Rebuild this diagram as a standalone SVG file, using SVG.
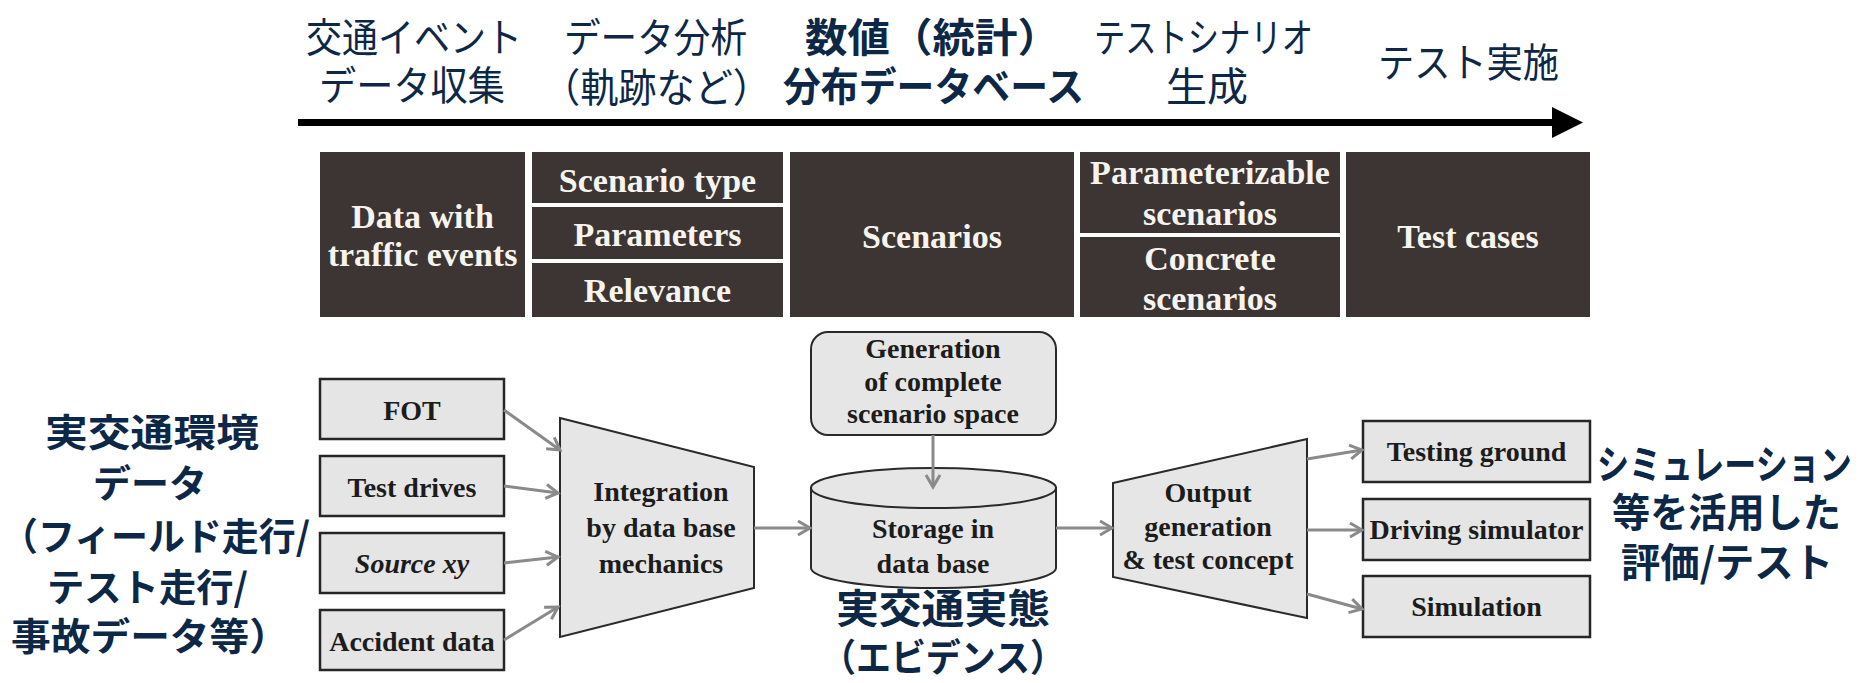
<svg xmlns="http://www.w3.org/2000/svg" width="1861" height="683" viewBox="0 0 1861 683">
<defs>
<style>
.jp{font-family:"Noto Sans CJK JP","Noto Sans CJK SC",sans-serif;fill:#0d2847;}
.jr{font-weight:400;font-size:40px;}
.jb{font-weight:700;}
.dk{fill:#3c3533;}
.wt{font-family:"Liberation Serif","Times New Roman",serif;font-weight:700;font-size:34px;fill:#f7f3ee;text-anchor:middle;}
.bx{fill:#e5e5e5;stroke:#262626;stroke-width:2.5;}
.sh{fill:#e6e6e6;stroke:#2a2a2a;stroke-width:2;}
.bt{font-family:"Liberation Serif","Times New Roman",serif;font-weight:700;font-size:28px;fill:#1c1c1c;text-anchor:middle;}
.cn{stroke:#8a8a8a;stroke-width:3;fill:none;marker-end:url(#ah);}
</style>
<marker id="ah" markerUnits="userSpaceOnUse" markerWidth="18" markerHeight="18" refX="15" refY="9" orient="auto">
<path d="M3,2 L15,9 L3,16" fill="none" stroke="#8a8a8a" stroke-width="3"/>
</marker>
</defs>
<rect width="1861" height="683" fill="#ffffff"/>

<g id="timeline">
<text class="jp jr" x="306" y="52" textLength="216" lengthAdjust="spacingAndGlyphs">交通イベント</text>
<text class="jp jr" x="319" y="100" textLength="186" lengthAdjust="spacingAndGlyphs">データ収集</text>
<text class="jp jr" x="564" y="52" textLength="183" lengthAdjust="spacingAndGlyphs">データ分析</text>
<text class="jp jr" x="542" y="102" textLength="229" lengthAdjust="spacingAndGlyphs">（軌跡など）</text>
<text class="jp jr jb" x="805" y="52" textLength="255" lengthAdjust="spacingAndGlyphs">数値（統計）</text>
<text class="jp jr jb" x="783" y="101" textLength="301" lengthAdjust="spacingAndGlyphs">分布データベース</text>
<text class="jp jr" x="1094" y="52" textLength="219" lengthAdjust="spacingAndGlyphs">テストシナリオ</text>
<text class="jp jr" x="1166" y="101" textLength="82" lengthAdjust="spacingAndGlyphs">生成</text>
<text class="jp jr" x="1378" y="77" textLength="181" lengthAdjust="spacingAndGlyphs">テスト実施</text>
<line x1="298" y1="122.5" x2="1556" y2="122.5" stroke="#000" stroke-width="7"/>
<polygon points="1552,107 1583,122.5 1552,138" fill="#000"/>
</g>

<g id="table">
<rect class="dk" x="320" y="152" width="205" height="165"/>
<text class="wt" x="422.5" y="228">Data with</text>
<text class="wt" x="422.5" y="266">traffic events</text>
<rect class="dk" x="532" y="152" width="251" height="51"/>
<text class="wt" x="657.5" y="192">Scenario type</text>
<rect class="dk" x="532" y="207" width="251" height="52"/>
<text class="wt" x="657.5" y="246">Parameters</text>
<rect class="dk" x="532" y="263" width="251" height="54"/>
<text class="wt" x="657.5" y="302">Relevance</text>
<rect class="dk" x="790" y="152" width="284" height="165"/>
<text class="wt" x="932" y="248">Scenarios</text>
<rect class="dk" x="1080" y="152" width="260" height="81"/>
<text class="wt" x="1210" y="184">Parameterizable</text>
<text class="wt" x="1210" y="225">scenarios</text>
<rect class="dk" x="1080" y="237" width="260" height="80"/>
<text class="wt" x="1210" y="270">Concrete</text>
<text class="wt" x="1210" y="310">scenarios</text>
<rect class="dk" x="1346" y="152" width="244" height="165"/>
<text class="wt" x="1468" y="248">Test cases</text>
</g>

<g id="src-fot">
<rect class="bx" x="320" y="379" width="184" height="60"/>
<text class="bt" x="412" y="420">FOT</text>
</g>
<g id="src-test">
<rect class="bx" x="320" y="456" width="184" height="60"/>
<text class="bt" x="412" y="497">Test drives</text>
</g>
<g id="src-xy">
<rect class="bx" x="320" y="533" width="184" height="60"/>
<text class="bt" x="412" y="573" font-style="italic">Source xy</text>
</g>
<g id="src-acc">
<rect class="bx" x="320" y="610" width="184" height="60"/>
<text class="bt" x="412" y="651">Accident data</text>
</g>

<g id="integration">
<polygon class="sh" points="560,418 754,467 754,588 560,637"/>
<text class="bt" x="661" y="501">Integration</text>
<text class="bt" x="661" y="537">by data base</text>
<text class="bt" x="661" y="573">mechanics</text>
</g>

<g id="generation">
<rect class="sh" x="811" y="332" width="245" height="103" rx="17" stroke-width="2.5"/>
<text class="bt" x="933" y="358">Generation</text>
<text class="bt" x="933" y="391">of complete</text>
<text class="bt" x="933" y="423">scenario space</text>
</g>

<g id="storage">
<path class="sh" d="M811,488 L811,568 A122.5,20 0 0 0 1056,568 L1056,488 Z"/>
<ellipse class="sh" cx="933.5" cy="488" rx="122.5" ry="20"/>
<text class="bt" x="933" y="538">Storage in</text>
<text class="bt" x="933" y="573">data base</text>
</g>

<g id="output">
<polygon class="sh" points="1113,483 1307,439 1307,618 1113,577"/>
<text class="bt" x="1208" y="502">Output</text>
<text class="bt" x="1208" y="536">generation</text>
<text class="bt" x="1208" y="569">&amp; test concept</text>
</g>

<g id="out-ground">
<rect class="bx" x="1363" y="421" width="227" height="61"/>
<text class="bt" x="1476.5" y="461">Testing ground</text>
</g>
<g id="out-driving">
<rect class="bx" x="1363" y="499" width="227" height="61"/>
<text class="bt" x="1476.5" y="539">Driving simulator</text>
</g>
<g id="out-sim">
<rect class="bx" x="1363" y="576" width="227" height="61"/>
<text class="bt" x="1476.5" y="616">Simulation</text>
</g>

<g id="connectors">
<line class="cn" x1="504" y1="410" x2="560" y2="450"/>
<line class="cn" x1="504" y1="486" x2="558" y2="493"/>
<line class="cn" x1="504" y1="563" x2="558" y2="557"/>
<line class="cn" x1="504" y1="640" x2="558" y2="607"/>
<line class="cn" x1="754" y1="528" x2="810" y2="528"/>
<line class="cn" x1="933" y1="435" x2="933" y2="487"/>
<line class="cn" x1="1056" y1="528" x2="1112" y2="528"/>
<line class="cn" x1="1307" y1="459" x2="1362" y2="450"/>
<line class="cn" x1="1307" y1="530" x2="1362" y2="530"/>
<line class="cn" x1="1307" y1="594" x2="1362" y2="609"/>
</g>

<g id="label-left">
<text class="jp jb" font-size="38" x="45" y="446" textLength="214" lengthAdjust="spacingAndGlyphs">実交通環境</text>
<text class="jp jb" font-size="38" x="93" y="497" textLength="114" lengthAdjust="spacingAndGlyphs">データ</text>
<text class="jp jb" font-size="38" x="1" y="550" textLength="309" lengthAdjust="spacingAndGlyphs">（フィールド走行/</text>
<text class="jp jb" font-size="38" x="47" y="601" textLength="201" lengthAdjust="spacingAndGlyphs">テスト走行/</text>
<text class="jp jb" font-size="38" x="11" y="650" textLength="278" lengthAdjust="spacingAndGlyphs">事故データ等）</text>
</g>

<g id="label-middle">
<text class="jp jb" font-size="40" x="836" y="623" textLength="214" lengthAdjust="spacingAndGlyphs">実交通実態</text>
<text class="jp jb" font-size="38" x="821" y="671" textLength="244" lengthAdjust="spacingAndGlyphs">（エビデンス）</text>
</g>

<g id="label-right">
<text class="jp jb" font-size="40" transform="translate(1597,479) scale(0.8,1)" x="0" y="0">シミュレーション</text>
<text class="jp jb" font-size="40" x="1612" y="527" textLength="229" lengthAdjust="spacingAndGlyphs">等を活用した</text>
<text class="jp jb" font-size="40" x="1621" y="577" textLength="212" lengthAdjust="spacingAndGlyphs">評価/テスト</text>
</g>
</svg>
